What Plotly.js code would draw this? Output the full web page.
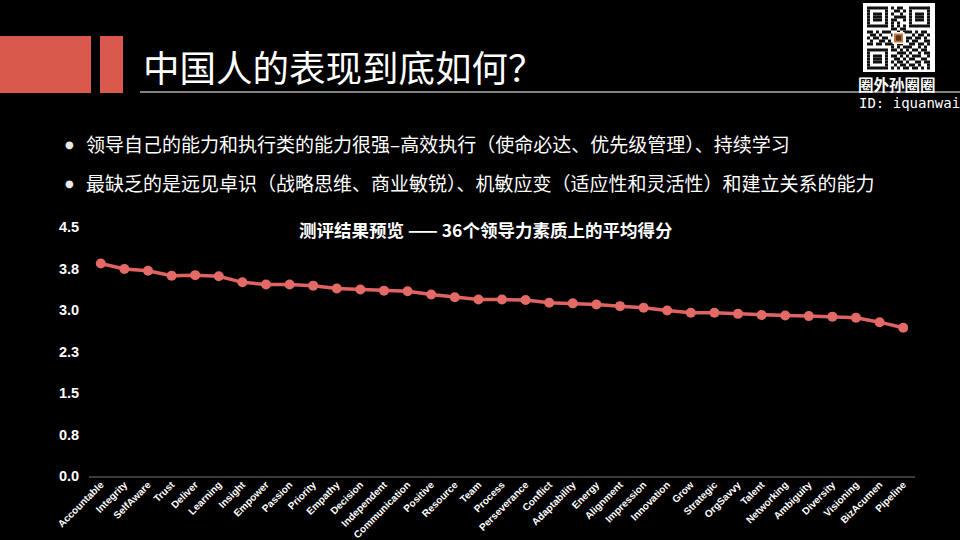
<!DOCTYPE html>
<html>
<head>
<meta charset="utf-8">
<script src="https://cdn.plot.ly/plotly-3.0.1.min.js"></script>
<style>
html,body{margin:0;padding:0;background:#000;}
#chart{width:960px;height:540px;}
</style>
</head>
<body>
<div id="chart"></div>
<script>
// ---- data ----
const categories = ["Accountable","Integrity","SelfAware","Trust","Deliver","Learning","Insight","Empower","Passion","Priority","Empathy","Decision","Independent","Communication","Positive","Resource","Team","Process","Perseverance","Conflict","Adaptability","Energy","Alignment","Impression","Innovation","Grow","Strategic","OrgSavvy","Talent","Networking","Ambiguity","Diversity","Visioning","BizAcumen","Pipeline"];
const scores = [3.84,3.74,3.71,3.62,3.63,3.61,3.50,3.46,3.46,3.44,3.39,3.37,3.35,3.34,3.28,3.23,3.19,3.19,3.18,3.13,3.12,3.10,3.07,3.04,2.99,2.95,2.95,2.93,2.91,2.90,2.89,2.88,2.86,2.78,2.68];
const yTickVals = [0,0.75,1.5,2.25,3.0,3.75,4.5];
const yTickLabels = ["0.0","0.8","1.5","2.3","3.0","3.8","4.5"];
const pageTitle = "中国人的表现到底如何？";
const bullets = ["领导自己的能力和执行类的能力很强–高效执行（使命必达、优先级管理）、持续学习",
                 "最缺乏的是远见卓识（战略思维、商业敏锐）、机敏应变（适应性和灵活性）和建立关系的能力"];
const chartTitle = "测评结果预览 —— 36个领导力素质上的平均得分";
const brandName = "圈外孙圈圈";
const brandId = "ID: iquanwai";

// ---- layout geometry (pixels) ----
const L = 89, R = 915, T = 227, B = 476;
const W = R - L, H = B - T;
const px = v => (v - L) / W;
const py = v => (B - v) / H;

const shapes = [];
const annotations = [];
const red = "#d9594c";
function rectPx(x0, y0, x1, y1, color) {
  shapes.push({type:"rect", xref:"paper", yref:"paper", x0:px(x0), x1:px(x1), y0:py(y1), y1:py(y0),
    fillcolor:color, line:{width:0}, layer:"above"});
}
// header blocks
rectPx(0, 36, 91, 93, red);
rectPx(100, 36, 123, 93, red);
// underline
shapes.push({type:"line", xref:"paper", yref:"paper", x0:px(140), x1:px(960), y0:py(92), y1:py(92),
  line:{color:"#ffffff", width:1}});

// QR-like decoration
rectPx(863, 3, 935, 72, "#ffffff");
const qr = [
"111111101011001111111",
"100000100110101000001",
"101110101001001011101",
"101110100111101011101",
"101110101100101011101",
"100000101010001000001",
"111111101010101111111",
"000000001101100000000",
"110101110010111010110",
"011010001101000101101",
"101101100000011011010",
"010011010000010110011",
"110110111011001101101",
"000000001010111001010",
"111111101101010110110",
"100000100011101001011",
"101110101101010111001",
"101110100110101100110",
"101110101011010011011",
"100000100101101101001",
"111111101010110110101"];
const qx0 = 867, qy0 = 6.5, qm = 3.0;
qr.forEach((row, r) => {
  let c = 0;
  while (c < 21) {
    if (row[c] === "1") {
      let s = c;
      while (c < 21 && row[c] === "1") c++;
      rectPx(qx0 + s*qm, qy0 + r*qm, qx0 + c*qm, qy0 + (r+1)*qm, "#111111");
    } else c++;
  }
});
rectPx(qx0 + 8.5*qm, qy0 + 8.5*qm, qx0 + 12.5*qm, qy0 + 12.5*qm, "#ffffff");
rectPx(qx0 + 9*qm, qy0 + 9*qm, qx0 + 12*qm, qy0 + 12*qm, "#c8783c");
rectPx(qx0 + 9.6*qm, qy0 + 9.6*qm, qx0 + 11.4*qm, qy0 + 11.4*qm, "#5a3320");

function textPx(text, x, y, size, opts) {
  opts = opts || {};
  annotations.push({text:text, xref:"paper", yref:"paper", x:px(x), y:py(y),
    xanchor:opts.xanchor || "left", yanchor:"middle", showarrow:false,
    font:{family:opts.family || "Noto Sans CJK SC", size:size, color:opts.color || "#ffffff", weight:opts.weight || "normal"}});
}
textPx(pageTitle, 141, 66, 36.5);
textPx("●", 63, 144, 10, {family:"DejaVu Sans", color:"#e8e8e8"});
textPx("●", 63, 183, 10, {family:"DejaVu Sans", color:"#e8e8e8"});
textPx(bullets[0], 84, 143, 19);
textPx(bullets[1], 84, 182, 19);
textPx(chartTitle, 486, 229, 17.5, {xanchor:"center", weight:"bold"});
textPx(brandName, 897, 84, 15.5, {xanchor:"center", weight:"bold"});
textPx(brandId, 857, 103, 14, {family:"DejaVu Sans Mono"});

const trace = {
  x: categories, y: scores, type:"scatter", mode:"lines+markers",
  line:{color:"#df6461", width:3.5},
  marker:{color:"#e36a66", size:10},
  cliponaxis:false, hoverinfo:"skip"
};

const layout = {
  width:960, height:540,
  paper_bgcolor:"#000000", plot_bgcolor:"#000000",
  margin:{l:L, r:960-R, t:T, b:540-B, pad:0},
  showlegend:false,
  xaxis:{
    type:"category", range:[-0.5, categories.length-0.5],
    showgrid:false, zeroline:false, showline:true, linecolor:"#3a3a3a", linewidth:2,
    tickangle:-45, ticks:"", fixedrange:true, ticklabelstandoff:-3,
    tickfont:{family:"Liberation Sans, Arial", size:10, color:"#ffffff", weight:"bold"}
  },
  yaxis:{
    range:[0,4.5], tickvals:yTickVals, ticktext:yTickLabels,
    showgrid:false, zeroline:false, showline:false,
    ticks:"outside", ticklen:6, tickcolor:"rgba(0,0,0,0)",
    tickfont:{family:"Liberation Sans, Arial", size:14.5, color:"#ffffff", weight:"bold"}
  },
  shapes:shapes,
  annotations:annotations
};

Plotly.newPlot("chart", [trace], layout, {staticPlot:true, displayModeBar:false});
</script>
</body>
</html>
